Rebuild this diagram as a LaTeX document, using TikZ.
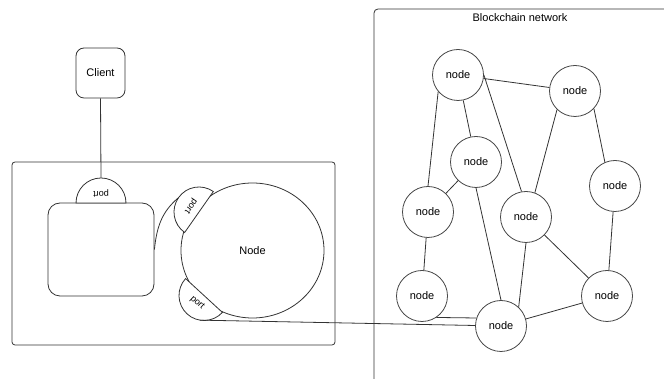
\documentclass[tikz,border=0pt]{standalone}
\usepackage{fontspec}
\setmainfont{Liberation Sans}
\usetikzlibrary{shapes.geometric}
\definecolor{edge}{HTML}{333333}

\begin{document}
\begin{tikzpicture}[x=1pt, y=1pt,
    box/.style={draw=edge, line width=0.8pt, rounded corners=8pt,
                font=\fontsize{11}{13}\selectfont},
    peer/.style={draw=edge!90, line width=0.8pt, circle, minimum size=51pt,
                 inner sep=0pt, fill=white, font=\fontsize{11}{13}\selectfont},
    portshape/.style={draw=edge, line width=0.8pt, fill=white},
    portlbl/.style={font=\fontsize{9}{10}\selectfont, inner sep=0pt},
    link/.style={draw=edge, line width=0.8pt}
  ]
    \clip (0,0) rectangle (664,379);

    % frames
    \draw[link, rounded corners=3pt] (12,34) rectangle (335,217);
    \draw[link, rounded corners=4pt] (374,-10) rectangle (700,370);
    \node[font=\fontsize{11}{13}\selectfont] (title) at (520,361) {Blockchain network};

    \node[box, minimum width=49pt, minimum height=50pt] (cl) at (100.5,306) {Client};
    \node[box, rounded corners=12pt, minimum width=106pt, minimum height=93pt] (app) at (101,129.5) {};
    \node[draw=edge, line width=0.8pt, ellipse, minimum width=143pt, minimum height=135pt,
          inner sep=0pt] (nd) at (252.5,128.5) {};
    \node[font=\fontsize{11}{13}\selectfont] (ndlbl) at (nd) {Node};

    % ports
    \begin{scope}[shift={(101,176)}]
      \draw[portshape] (-25,0) arc (180:0:25) -- cycle;
      \node[portlbl, rotate=180] (pa) at (0,10) {port};
      \coordinate (pa top) at (0,25);
    \end{scope}
    \begin{scope}[shift={(199,167)}, rotate=55]
      \draw[portshape] (-25,0) arc (180:0:25) -- cycle;
      \node[portlbl, rotate=235] (pb) at (0,10) {port};
      \coordinate (pb top) at (0,25);
    \end{scope}
    \begin{scope}[shift={(204,83.5)}, rotate=137.4]
      \draw[portshape] (-25,0) arc (180:0:25) -- cycle;
      \node[portlbl, rotate=-42.6] (pc) at (0,10) {port};
      \coordinate (pc out) at (123:25);
    \end{scope}

    % network
    \node[peer] (a) at (458,304) {node};
    \node[peer] (b) at (575,288) {node};
    \node[peer] (c) at (476,217) {node};
    \node[peer] (d) at (615,193) {node};
    \node[peer] (e) at (428,167) {node};
    \node[peer] (f) at (526,162) {node};
    \node[peer] (g) at (422,83) {node};
    \node[peer] (h) at (607,83) {node};
    \node[peer] (i) at (501,53) {node};

    \draw[link] (a) -- (b) (a) -- (c) (a.east) -- (f.100) (a.220) -- (e.north)
                (b.226) -- (f.70) (b.-43) -- (d.113) (c) -- (e) (c.south) -- (i.north)
                (e) -- (g) (g.-56) -- (i.162) (f.south) -- (i.47) (f) -- (h)
                (d) -- (h) (h) -- (i);

    \draw[link] (cl.south) -- (pa top);
    \draw[link] (app.east) to[out=84, in=220] (pb top);
    \draw[link] (pc out) -- (i);
  \end{tikzpicture}
\end{document}
